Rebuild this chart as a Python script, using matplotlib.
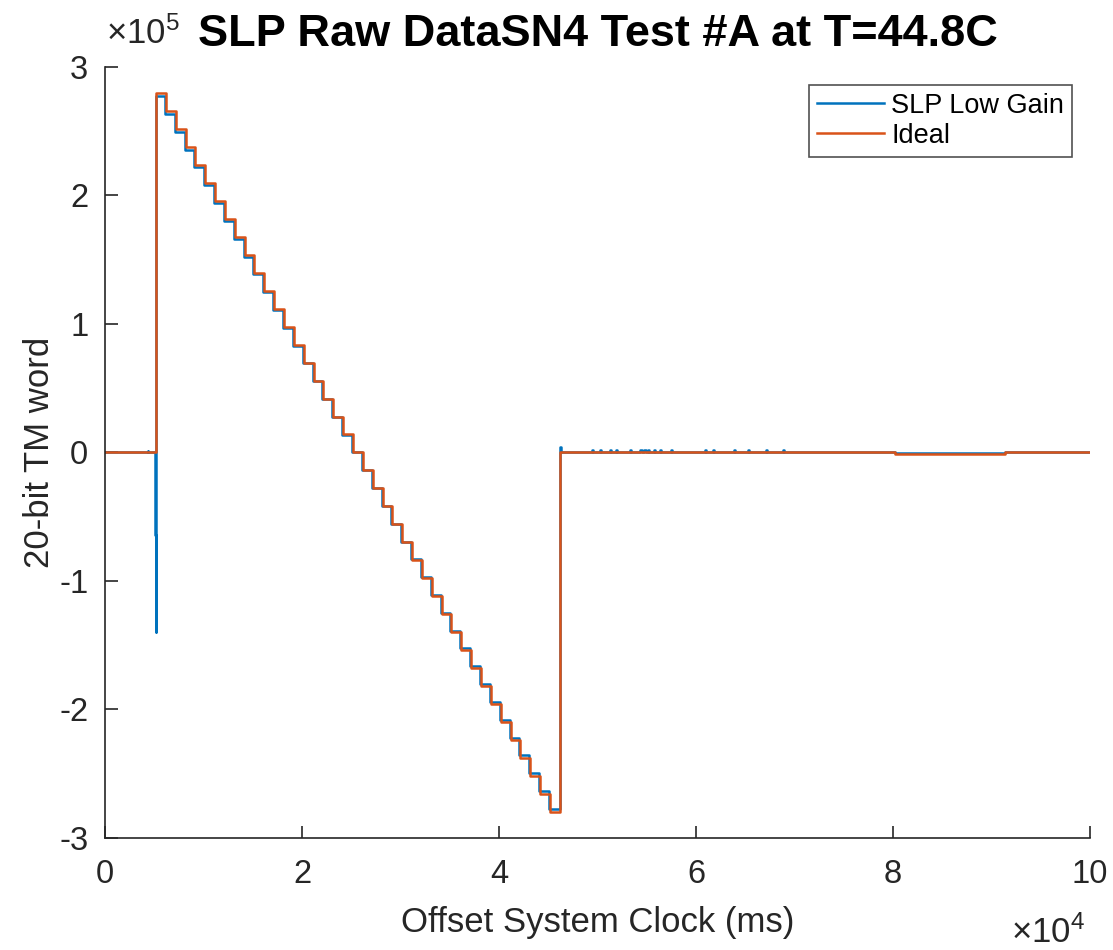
import matplotlib.pyplot as plt
from matplotlib.ticker import FuncFormatter

plt.rcParams['font.family'] = ['Liberation Sans', 'DejaVu Sans']
plt.rcParams['mathtext.fontset'] = 'custom'
plt.rcParams['mathtext.rm'] = 'Liberation Sans'
plt.rcParams['mathtext.default'] = 'regular'

# ideal staircase: step start times (ms) and levels (20-bit word)
ideal_t = [0, 5180, 6180, 7180, 8180, 9180, 10180, 11180, 12180, 13180, 14180,
           15180, 16180, 17180, 18180, 19180, 20180, 21180, 22180, 23180, 24180,
           25180, 26180, 27180, 28180, 29180, 30180, 31180, 32180, 33180, 34180,
           35180, 36180, 37180, 38180, 39180, 40180, 41180, 42180, 43180, 44180,
           45180, 46180, 80200, 91400, 100000]
ideal_v = [0, 280000, 266000, 252000, 238000, 224000, 210000, 196000, 182000,
           168000, 154000, 140000, 126000, 112000, 98000, 84000, 70000, 56000,
           42000, 28000, 14000, 0, -14000, -28000, -42000, -56000, -70000,
           -84000, -98000, -112000, -126000, -140000, -154000, -168000, -182000,
           -196000, -210000, -224000, -238000, -252000, -266000, -280000,
           0, -1200, 0, 0]

# measured low gain channel
slp_t = [0, 4350, 4400, 5120, 5140, 5150, 5160, 5170, 5180,
         6080, 7080, 8080, 9080, 10080, 11080, 12080, 13080, 14080, 15080,
         16080, 17080, 18080, 19080, 20080, 21080, 22080, 23080, 24080, 25080,
         26080, 27080, 28080, 29080, 30080, 31080, 32080, 33080, 34080, 35080,
         36080, 37080, 38080, 39080, 40080, 41080, 42080, 43080, 44080, 45080,
         46180, 46300,
         49400, 49500, 50250, 50350, 51270, 51370, 51850, 51950, 53300, 53400,
         54300, 54500, 54700, 54900, 55100, 55200, 55700, 55800, 56350, 56450,
         57440, 57540, 60900, 61000, 61700, 61800, 63860, 63960, 65280, 65380,
         67100, 67200, 68830, 68930, 80200, 91400, 100000]
slp_v = [0, 1500, 0, -64000, -5000, -64000, -20000, -140000, 277200,
         263300, 249500, 235600, 221800, 207900, 194000, 180200, 166300,
         152500, 138600, 124700, 110900, 97000, 83200, 69300, 55400, 41600,
         27700, 13900, 0, -13900, -27700, -41600, -55400, -69300, -83200,
         -97000, -110900, -124700, -138600, -152500, -166300, -180200, -194000,
         -207900, -221800, -235600, -249500, -263300, -277200,
         4000, 0,
         2000, 0, 2000, 0, 2000, 0, 2000, 0, 2000, 0,
         2000, 0, 2000, 0, 2000, 0, 2000, 0, 2000, 0,
         2000, 0, 2000, 0, 2000, 0, 2000, 0, 2000, 0,
         2000, 0, 2000, 0, -400, 0, 0]

xticks = [0, 20000, 40000, 60000, 80000, 100000]
yticks = [-300000, -200000, -100000, 0, 100000, 200000, 300000]

fig = plt.figure(figsize=(11.13, 9.5), dpi=100)
ax = fig.add_axes([0.0943, 0.1179, 0.885, 0.8116])

ax.step(slp_t, slp_v, where='post', color='#0072BD', lw=1.8, label='SLP Low Gain')
ax.step(ideal_t, ideal_v, where='post', color='#D95319', lw=1.8, label='Ideal')

ax.set_xlim(0, 100000)
ax.set_ylim(-300000, 300000)
ax.set_xticks(xticks)
ax.set_yticks(yticks)
ax.xaxis.set_major_formatter(FuncFormatter(lambda v, p: '%g' % (v / 1e4)))
ax.yaxis.set_major_formatter(FuncFormatter(lambda v, p: ('%g' % (v / 1e5)).replace('\u2212', '-')))

dark = '#262626'
for s in ['top', 'right']:
    ax.spines[s].set_visible(False)
for s in ['left', 'bottom']:
    ax.spines[s].set_color(dark)
    ax.spines[s].set_linewidth(1.2)
ax.tick_params(direction='in', length=9, width=1.2, colors=dark, labelsize=23.5)
ax.tick_params(axis='x', pad=15)
ax.tick_params(axis='y', pad=12)

ax.set_xlabel('Offset System Clock (ms)', fontsize=25, color=dark, labelpad=12)
ax.set_ylabel('20-bit TM word', fontsize=25, color=dark, labelpad=2)
ax.set_title('SLP Raw DataSN4 Test #A at T=44.8C', fontsize=32.5, fontweight='bold',
             pad=15, x=0.5)

fig.text(0.095, 0.965, r'$\times10^{5}$', fontsize=25, color=dark, ha='left', va='center')
fig.text(0.975, 0.018, r'$\times10^{4}$', fontsize=25, color=dark, ha='right', va='center')

leg = ax.legend(loc='upper right', fontsize=19.5, frameon=True, fancybox=False,
                edgecolor=dark, borderpad=0.3, handlelength=2.5, handletextpad=0.25,
                labelspacing=0.15, borderaxespad=0, bbox_to_anchor=(0.982, 0.977))
leg.get_frame().set_linewidth(1.2)

fig.savefig('out.png', dpi=100)
